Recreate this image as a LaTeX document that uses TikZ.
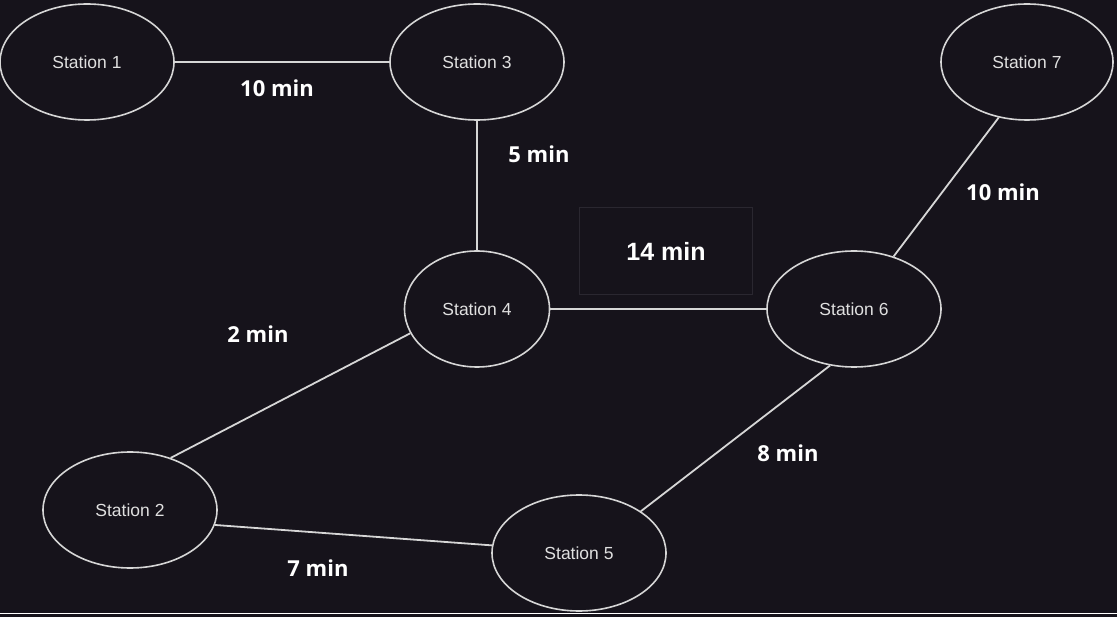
\documentclass[tikz,border=0pt]{standalone}
\usepackage{fontspec}
\setmainfont{Liberation Sans}
\newfontfamily\labelfont{Open Sans}
\usetikzlibrary{shapes.geometric}

\definecolor{bgdark}{HTML}{16131B}
\definecolor{linegray}{HTML}{D6D6D6}
\definecolor{boxgray}{HTML}{2A2730}

\tikzset{
    station/.style = {ellipse, draw = linegray, line width = 1.6pt, minimum width = 174pt, minimum height = 116pt, inner sep = 0pt, text = white!88!black, font = \fontsize{17.5}{19}\selectfont},
    track/.style = {draw = linegray, line width = 1.8pt},
    timelabel/.style = {text = white, font = \labelfont\bfseries\fontsize{22}{24}\selectfont}
}

\begin{document}
\begin{tikzpicture}[x = 1pt, y = -1pt]
            \fill[bgdark] (0, 0) rectangle (1117, 617);
            \useasboundingbox (0, 0) rectangle (1117, 617);

            \coordinate (pos_s1) at (87, 62);
            \coordinate (pos_s2) at (130, 510);
            \coordinate (pos_s3) at (477, 62);
            \coordinate (pos_s4) at (477, 309);
            \coordinate (pos_s5) at (579, 553);
            \coordinate (pos_s6) at (854, 309);
            \coordinate (pos_s7) at (1027, 62);

            \node[station] (s1) at (pos_s1) {Station 1};
            \node[station] (s2) at (pos_s2) {Station 2};
            \node[station] (s3) at (pos_s3) {Station 3};
            \node[station, minimum width = 145pt] (s4) at (pos_s4) {Station 4};
            \node[station] (s5) at (pos_s5) {Station 5};
            \node[station] (s6) at (pos_s6) {Station 6};
            \node[station, minimum width = 172pt] (s7) at (pos_s7) {Station 7};

            \draw[track] (s1) -- (s3);
            \draw[track] (s3) -- (s4);
            \draw[track] (s4) -- (s6);
            \draw[track] (s6.53) -- (s7.243);
            \draw[track] (s4.200) -- (s2.52);
            \draw[track] (s2.350) -- (s5.175);
            \draw[track] (s5.34) -- (s6.247);

            \node[timelabel] (t13) at (277, 88) {10 min};
            \node[timelabel] (t34) at (539, 154) {5 min};
            \node[draw = boxgray, line width = 1pt, minimum width = 173pt, minimum height = 87pt, text = white, font = \bfseries\fontsize{25}{27}\selectfont] (t46) at (666, 251) {14 min};
            \node[timelabel] (t67) at (1003, 192) {10 min};
            \node[timelabel] (t24) at (258, 334) {2 min};
            \node[timelabel] (t56) at (788, 453) {8 min};
            \node[timelabel] (t25) at (318, 568) {7 min};

            \draw[white, line width = 1.5pt] (0, 613.5) -- (1117, 613.5);
        \end{tikzpicture}
\end{document}
